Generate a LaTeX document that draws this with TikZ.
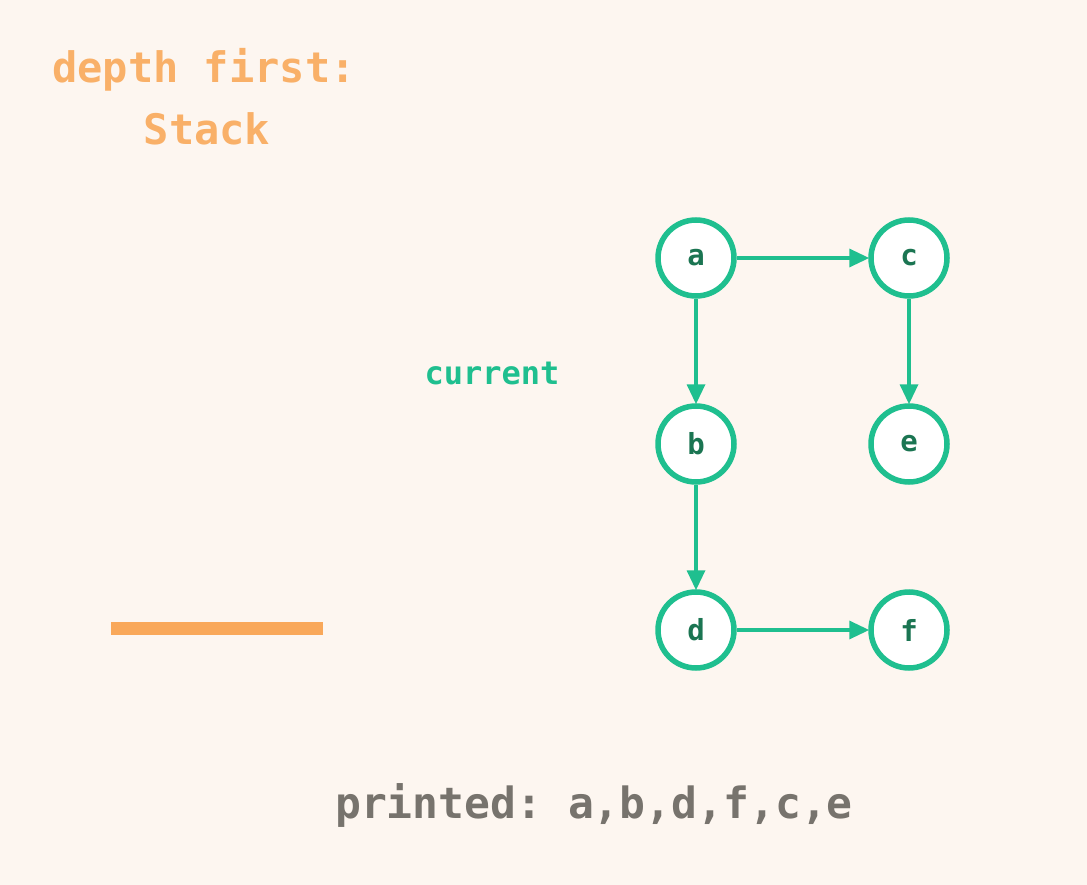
\documentclass[tikz,border=0pt]{standalone}
\usepackage{fontspec}
\setmonofont{DejaVu Sans Mono}
\usetikzlibrary{arrows.meta}
\definecolor{bg}{HTML}{FDF6F0}
\definecolor{gr}{HTML}{1FBF8F}
\definecolor{grtext}{HTML}{1B7552}
\definecolor{org}{HTML}{F9B068}
\definecolor{orgbar}{HTML}{F9A85A}
\definecolor{gry}{HTML}{77736D}
\tikzset{
  vert/.style={circle, draw=gr, line width=5.5pt, fill=white, minimum size=76pt, inner sep=0pt,
    text=grtext, font=\ttfamily\bfseries\fontsize{29}{29}\selectfont},
  edge/.style={draw=gr, line width=3.4pt, -{Triangle[length=20pt,width=18pt]}, shorten >=-1pt},
  title/.style={text=org, font=\ttfamily\bfseries\fontsize{42}{42}\selectfont, inner sep=0pt},
}
\begin{document}
\begin{tikzpicture}[x=1pt,y=-1pt]
\fill[bg] (0,0) rectangle (1087,885);
\useasboundingbox (0,0) rectangle (1087,885);
\node[title, anchor=base west] (t1) at (52,83) {depth first:};
\node[title, anchor=base] (t2) at (207,145) {Stack};
\node[text=gr, font=\ttfamily\bfseries\fontsize{32}{32}\selectfont, inner sep=0pt] (cur) at (492,373) {current};
\node[vert] (a) at (696,258) {a};
\node[vert] (c) at (909,258) {c};
\node[vert] (b) at (696,444) {b};
\node[vert] (e) at (909,444) {e};
\node[vert] (d) at (696,630) {d};
\node[vert] (f) at (909,630) {f};
\draw[edge] (a) -- (c);
\draw[edge] (a) -- (b);
\draw[edge] (c) -- (e);
\draw[edge] (b) -- (d);
\draw[edge] (d) -- (f);
\fill[orgbar] (111,622) rectangle (323,635);
\node[text=gry, font=\ttfamily\bfseries\fontsize{43}{43}\selectfont, inner sep=0pt] (pr) at (594,805) {printed: a,b,d,f,c,e};
\end{tikzpicture}
\end{document}
